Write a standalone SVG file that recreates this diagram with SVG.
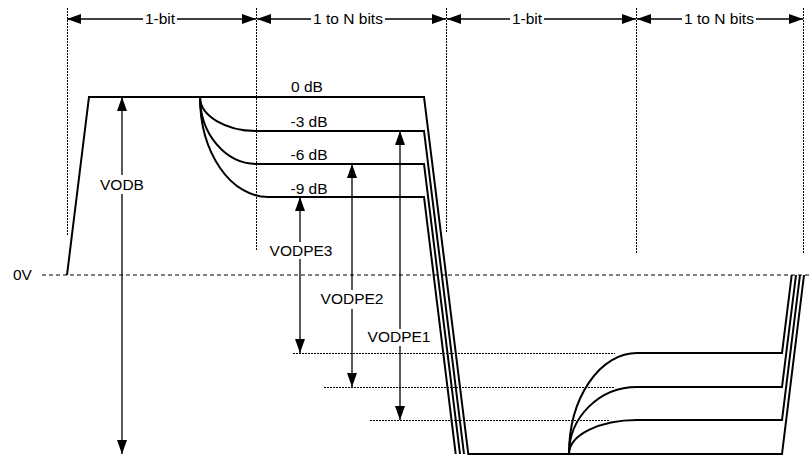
<svg xmlns="http://www.w3.org/2000/svg" width="811" height="455" viewBox="0 0 811 455">
<style>
text{font-family:"Liberation Sans",Arial,sans-serif;font-size:15.5px;fill:#000}
.grid{stroke:#000;stroke-width:1;stroke-dasharray:2,1;fill:none}
.ref{stroke:#000;stroke-width:1;stroke-dasharray:2,1;fill:none}
.zero{stroke:#000;stroke-width:1.2;stroke-dasharray:4,3;fill:none}
.wave{stroke:#000;stroke-width:2;fill:none;stroke-linejoin:miter}
.arr{stroke:#000;stroke-width:1.3;fill:none}
.s{marker-start:url(#ah)}
.e{marker-end:url(#ah)}
</style>
<defs>
<marker id="ah" markerUnits="userSpaceOnUse" markerWidth="14" markerHeight="10" refX="14" refY="5" orient="auto-start-reverse">
<path d="M0,0 L14,5 L0,10 z" fill="#000"/>
</marker>
</defs>
<rect width="811" height="455" fill="#fff"/>
<g id="grid">
<line class="grid" x1="67.5" y1="8" x2="67.5" y2="235"/>
<line class="grid" x1="256.5" y1="8" x2="256.5" y2="250"/>
<line class="grid" x1="446.5" y1="8" x2="446.5" y2="232"/>
<line class="grid" x1="636.5" y1="8" x2="636.5" y2="253"/>
<line class="grid" x1="803.5" y1="8" x2="803.5" y2="253"/>
<line class="zero" x1="42" y1="275" x2="811" y2="275"/>
<line class="ref" x1="293" y1="353.5" x2="615" y2="353.5"/>
<line class="ref" x1="324" y1="387.5" x2="615" y2="387.5"/>
<line class="ref" x1="370" y1="420.5" x2="610" y2="420.5"/>
</g>
<g id="timing">
<line class="arr s" x1="67" y1="19" x2="143" y2="19"/>
<line class="arr e" x1="177" y1="19" x2="256" y2="19"/>
<text x="160" y="24" text-anchor="middle">1-bit</text>
<line class="arr s" x1="257" y1="19" x2="311" y2="19"/>
<line class="arr e" x1="385" y1="19" x2="446" y2="19"/>
<text x="348" y="24" text-anchor="middle">1 to N bits</text>
<line class="arr s" x1="447" y1="19" x2="510" y2="19"/>
<line class="arr e" x1="544" y1="19" x2="636" y2="19"/>
<text x="527" y="24" text-anchor="middle">1-bit</text>
<line class="arr s" x1="637" y1="19" x2="682" y2="19"/>
<line class="arr e" x1="756" y1="19" x2="803" y2="19"/>
<text x="719" y="24" text-anchor="middle">1 to N bits</text>
</g>
<g id="waveform">
<path id="w0" class="wave" d="M67,275 L89,97 L424,97 L468.3,454 L782,454 L804,275"/>
<path id="w3" class="wave" d="M200,97 A57,34 0 0 0 257,131 L424,131 L464,454"/>
<path id="w6" class="wave" d="M200,97 A57,67 0 0 0 257,164 L424,164 L460,454"/>
<path id="w9" class="wave" d="M200,97 A68,100 0 0 0 268,197 L424,197 L455.7,454"/>
<path id="b3" class="wave" d="M569,454 A68,34 0 0 1 637,420 L782,420 L800,275"/>
<path id="b6" class="wave" d="M569,454 A68,67 0 0 1 637,387 L782,387 L796,275"/>
<path id="b9" class="wave" d="M569,454 A68,101 0 0 1 637,353 L782,353 L791.7,275"/>
</g>
<g id="levels">
<text x="307" y="92" text-anchor="middle">0 dB</text>
<text x="309" y="127" text-anchor="middle">-3 dB</text>
<text x="309" y="160" text-anchor="middle">-6 dB</text>
<text x="309" y="194" text-anchor="middle">-9 dB</text>
<text x="13" y="280">0V</text>
</g>
<g id="VODB">
<line class="arr s" x1="122" y1="97" x2="122" y2="175"/>
<line class="arr e" x1="122" y1="194" x2="122" y2="454"/>
<text x="122" y="190" text-anchor="middle">VODB</text>
</g>
<g id="VODPE3">
<line class="arr s" x1="300" y1="197" x2="300" y2="242"/>
<line class="arr e" x1="300" y1="259" x2="300" y2="353"/>
<text x="301" y="256" text-anchor="middle">VODPE3</text>
</g>
<g id="VODPE2">
<line class="arr s" x1="352" y1="164" x2="352" y2="290"/>
<line class="arr e" x1="352" y1="309" x2="352" y2="387"/>
<text x="352" y="304" text-anchor="middle">VODPE2</text>
</g>
<g id="VODPE1">
<line class="arr s" x1="400" y1="131" x2="400" y2="329"/>
<line class="arr e" x1="400" y1="346" x2="400" y2="420"/>
<text x="399" y="342" text-anchor="middle">VODPE1</text>
</g>
</svg>
